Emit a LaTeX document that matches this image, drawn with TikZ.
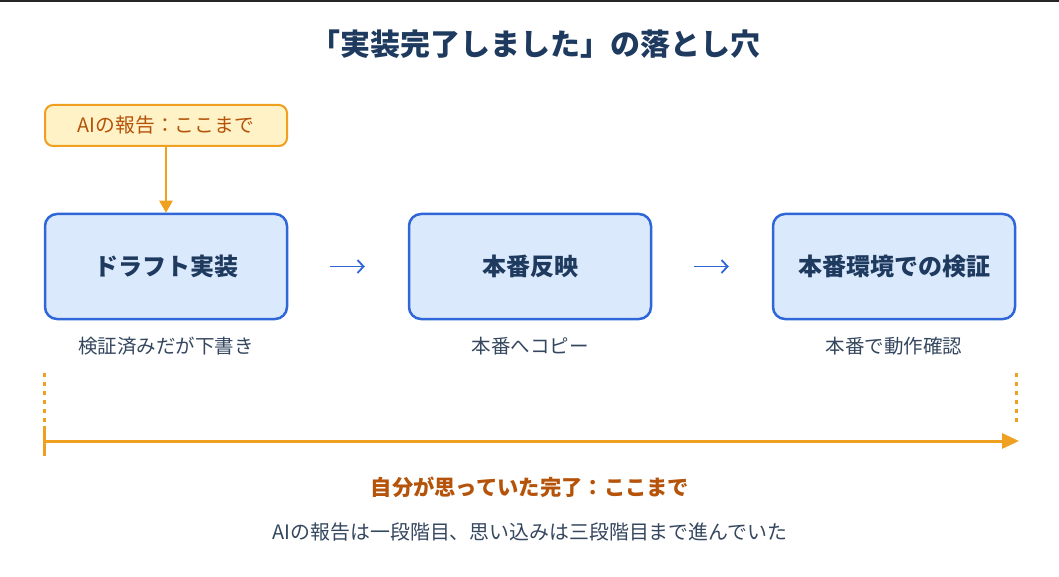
\documentclass[tikz,border=0pt]{standalone}
\usepackage{fontspec}
\setmainfont{Noto Sans CJK JP}
\usepackage{tikz}
\usetikzlibrary{arrows.meta}
\definecolor{navy}{HTML}{1E3A5F}
\definecolor{boxblue}{HTML}{2F66D8}
\definecolor{boxfill}{HTML}{DBE9FC}
\definecolor{amber}{HTML}{F0A020}
\definecolor{cream}{HTML}{FFF2C6}
\definecolor{rust}{HTML}{B45309}
\definecolor{slate}{HTML}{34475F}
\tikzstyle{box_s} = [rectangle, rounded corners=12pt, draw=boxblue, fill=boxfill, line width=2.5pt, minimum width=242pt, minimum height=105pt, inner sep=0pt, text=navy, font=\fontsize{24}{28}\selectfont\bfseries]
\tikzstyle{box_r} = [rectangle, rounded corners=8pt, draw=amber, fill=cream, line width=2pt, minimum width=242pt, minimum height=41pt, inner sep=0pt, text=rust, font=\fontsize{19.8}{23}\selectfont]
\tikzstyle{sub_t} = [text=slate, font=\fontsize{19.5}{23}\selectfont, inner sep=0pt]
\tikzstyle{amb_l} = [amber, line width=3pt]

\begin{document}
\begin{tikzpicture}[x=1pt,y=-1pt]
\useasboundingbox (0,0) rectangle (1059,577);
\draw[black!85, line width=2pt] (0,1) -- (1059,1);
\node [text=navy, font=\fontsize{30}{34}\selectfont\bfseries] (ttl) at (535,44) {「実装完了しました」の落とし穴};

\node [box_r] (rep) at (166,125.5) {AIの報告：ここまで};

\node [box_s] (drft) at (166,266.5) {ドラフト実装};
\node [box_s] (prod) at (530,266.5) {本番反映};
\node [box_s] (chk) at (894,266.5) {本番環境での検証};

\node [sub_t] (drft_s) at (166,346) {検証済みだが下書き};
\node [sub_t] (prod_s) at (530,346) {本番へコピー};
\node [sub_t] (chk_s) at (894,346) {本番で動作確認};

\draw [amber, line width=2.5pt, -{Triangle[length=12pt,width=13pt]}] (rep) -- (drft);
\draw [boxblue, line width=1.8pt, -{Straight Barb[length=6pt,width=13pt]}, shorten <=42pt, shorten >=43pt] (drft) -- (prod);
\draw [boxblue, line width=1.8pt, -{Straight Barb[length=6pt,width=13pt]}, shorten <=42pt, shorten >=43pt] (prod) -- (chk);

% span of what was expected
\coordinate (d_l1) at (44,373);
\coordinate (d_l2) at (44,422);
\coordinate (d_r1) at (1016,373);
\coordinate (d_r2) at (1016,422);
\coordinate (t_1) at (44,426);
\coordinate (t_2) at (44,456);
\coordinate (s_l) at (44,441);
\coordinate (s_r) at (1019,441);
\draw [amb_l, dash pattern=on 3.5pt off 5.5pt] (d_l1) -- (d_l2);
\draw [amb_l, dash pattern=on 3.5pt off 5.5pt] (d_r1) -- (d_r2);
\draw [amb_l] (t_1) -- (t_2);
\draw [amb_l, -{Triangle[length=17pt,width=15pt]}] (s_l) -- (s_r);

\node [text=rust, font=\fontsize{21.3}{25}\selectfont\bfseries] (expt) at (530,487) {自分が思っていた完了：ここまで};
\node [text=slate, font=\fontsize{19.9}{23}\selectfont] (note) at (530,532) {AIの報告は一段階目、思い込みは三段階目まで進んでいた};
\end{tikzpicture}
\end{document}
